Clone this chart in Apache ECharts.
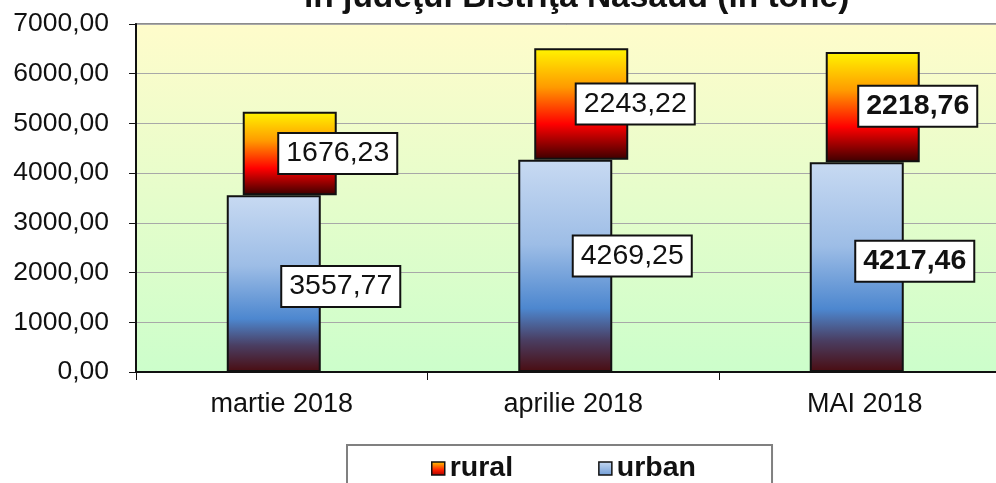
<!DOCTYPE html>
<html>
<head>
<meta charset="utf-8">
<script src="https://cdn.jsdelivr.net/npm/echarts@6/dist/echarts.min.js"></script>
<style>
html,body{margin:0;padding:0;background:#fff;}
#c{width:996px;height:483px;}
</style>
</head>
<body>
<div id="c"></div>
<script>
var titleText = 'în judeţul Bistriţa Năsăud (în tone)';
var categories = ['martie 2018', 'aprilie 2018', 'MAI 2018'];
var urban = [3557.77, 4269.25, 4217.46];
var rural = [1676.23, 2243.22, 2218.76];
var boldIndex = 2;

// label placement (presentation only): shifts of each value box from its bar centre
var urbanLabelShift = [[67, 3], [67, -10], [58, -6]];
var ruralLabelShift = [[48, 0], [54, 0], [45, -1]];

var FONT = 'Liberation Sans, Arial, sans-serif';
function fmt(v) { return v.toFixed(2).replace('.', ','); }

var urbanGrad = new echarts.graphic.LinearGradient(0, 0, 0, 1, [
  {offset: 0, color: '#C8DAF2'},
  {offset: 0.4, color: '#9DBDE6'},
  {offset: 0.7, color: '#4D87CF'},
  {offset: 0.85, color: '#4A3E62'},
  {offset: 1, color: '#4A0C10'}
]);
var ruralGrad = new echarts.graphic.LinearGradient(0, 0, 0, 1, [
  {offset: 0, color: '#FFF500'},
  {offset: 0.35, color: '#FF9A00'},
  {offset: 0.68, color: '#FF0000'},
  {offset: 1, color: '#3A0000'}
]);
var urbanIcon = new echarts.graphic.LinearGradient(0, 0, 0, 1, [
  {offset: 0, color: '#C8DAF2'},
  {offset: 1, color: '#6E9BD6'}
]);
var ruralIcon = new echarts.graphic.LinearGradient(0, 0, 0, 1, [
  {offset: 0, color: '#FFD000'},
  {offset: 0.6, color: '#FF2000'},
  {offset: 1, color: '#A00000'}
]);

function labelCfg() {
  return {
    show: true,
    position: 'inside',
    formatter: function (p) { return fmt(p.value); },
    color: '#111',
    fontFamily: FONT,
    fontSize: 28.5,
    lineHeight: 30,
    backgroundColor: '#fff',
    borderColor: '#111',
    borderWidth: 2,
    padding: [5, 7, 4, 7]
  };
}

function mkData(arr, shifts) {
  return arr.map(function (v, i) {
    var lab = {offset: shifts[i]};
    if (i === boldIndex) lab.fontWeight = 'bold';
    return {value: v, label: lab};
  });
}

var chart = echarts.init(document.getElementById('c'), null, {renderer: 'canvas'});
chart.setOption({
  animation: false,
  backgroundColor: '#fff',
  title: {
    text: titleText,
    left: 299,
    top: -24.5,
    textStyle: {fontFamily: FONT, fontSize: 33.5, fontWeight: 'bold', color: '#111'}
  },
  legend: {
    data: [
      {name: 'rural', itemStyle: {color: ruralIcon}},
      {name: 'urban', itemStyle: {color: urbanIcon}}
    ],
    icon: 'rect',
    left: 347,
    top: 445,
    itemWidth: 13,
    itemHeight: 13,
    itemGap: 85,
    padding: [9, 76, 40, 84],
    borderColor: '#808080',
    borderWidth: 2,
    backgroundColor: '#fff',
    itemStyle: {borderColor: '#111', borderWidth: 1.5},
    textStyle: {fontFamily: FONT, fontSize: 28.5, fontWeight: 'bold', color: '#111'}
  },
  grid: {
    left: 136,
    top: 24,
    width: 874.5,
    height: 348,
    containLabel: false,
    outerBoundsMode: 'none',
    show: true,
    borderColor: '#8C8C8C',
    borderWidth: 2,
    backgroundColor: new echarts.graphic.LinearGradient(0, 0, 0, 1, [
      {offset: 0, color: '#FFFCCB'},
      {offset: 1, color: '#CCFECB'}
    ])
  },
  xAxis: {
    type: 'category',
    data: categories,
    axisLine: {lineStyle: {color: '#111', width: 2}},
    axisTick: {show: true, length: 8, lineStyle: {color: '#111'}},
    axisLabel: {color: '#111', fontFamily: FONT, fontSize: 27, margin: 19}
  },
  yAxis: {
    type: 'value',
    min: 0,
    max: 7000,
    interval: 1000,
    axisLine: {show: true, lineStyle: {color: '#111', width: 2}},
    axisTick: {show: true, length: 7, lineStyle: {color: '#111'}},
    axisLabel: {color: '#111', fontFamily: FONT, fontSize: 26.5, margin: 27,
      formatter: function (v) { return fmt(v); }},
    splitLine: {lineStyle: {color: '#A8A8A8', width: 1}}
  },
  series: [
    {
      name: 'urban',
      type: 'bar',
      stack: 'u',
      barWidth: 94,
      barGap: '-83%',
      data: mkData(urban, urbanLabelShift),
      itemStyle: {color: urbanGrad, borderColor: '#111', borderWidth: 2},
      label: labelCfg(),
      z: 2
    },
    {
      name: 'base',
      type: 'bar',
      stack: 'r',
      barWidth: 94,
      barGap: '-83%',
      data: urban,
      silent: true,
      itemStyle: {color: 'rgba(0,0,0,0)', borderWidth: 0},
      label: {show: false},
      z: 1
    },
    {
      name: 'rural',
      type: 'bar',
      stack: 'r',
      barWidth: 94,
      barGap: '-83%',
      data: mkData(rural, ruralLabelShift),
      itemStyle: {color: ruralGrad, borderColor: '#111', borderWidth: 2},
      label: labelCfg(),
      z: 3
    }
  ]
});
</script>
</body>
</html>
